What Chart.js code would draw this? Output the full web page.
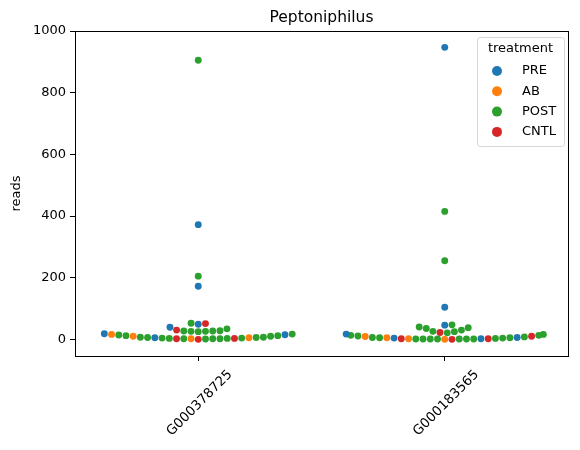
<!DOCTYPE html>
<html>
<head>
<meta charset="utf-8">
<script src="https://cdn.jsdelivr.net/npm/chart.js@4.4.1/dist/chart.umd.min.js"></script>
<style>
  body { margin: 0; background: #fff; }
  #wrap { width: 580px; height: 450px; }
</style>
</head>
<body>
<div id="wrap"><canvas id="chart"></canvas></div>
<script>
"use strict";

// categories on the x axis
const genes = ["G000378725", "G000183565"];
const treatments = ["PRE", "AB", "POST", "CNTL"];
const colors = ["#1f77b4", "#ff7f0e", "#2ca02c", "#d62728"];
const yTicks = [0, 200, 400, 600, 800, 1000];

// reads per sample, [gene 1, gene 2] for each treatment
const preReads = [
    [5, 15, 18, 39, 49, 372, 172],
    [2, 4, 6, 17, 46, 104, 947]
];
const abReads = [
    [2, 5, 10, 16],
    [0, 2, 5, 9]
];
const postReads = [
    [1, 2, 2, 2, 3, 3, 4, 4, 6, 6, 7, 7, 10, 12, 12, 14, 17, 25, 26, 26, 27, 27, 28, 34, 52, 905, 205],
    [1, 1, 1, 1, 1, 1, 1, 3, 4, 5, 5, 6, 8, 11, 13, 13, 16, 21, 25, 26, 30, 35, 38, 40, 47, 415, 255]
];
const cntlReads = [
    [0, 2, 3, 30, 51],
    [0, 2, 2, 10, 22]
];
const readsByTreatment = [preReads, abReads, postReads, cntlReads];

const FONT = "'DejaVu Sans', sans-serif";
const RADIUS = 3.45;
const SWARM_WIDTH = 0.8;

// every dataset starts with all points on the category centre, swarm spreads them later
const datasets = treatments.map((t, i) => ({
    label: t,
    data: readsByTreatment[i].flatMap((vals, g) => vals.map(v => ({ x: g, y: v, g: g }))),
    backgroundColor: colors[i],
    borderWidth: 0,
    pointRadius: RADIUS,
    pointHoverRadius: RADIUS
}));

// same idea as seaborn's beeswarm: sort by value, put each point as close to the middle as it fits
function swarmLayout(chart) {
    const xs = chart.scales.x, ys = chart.scales.y;
    const d = RADIUS * 2;
    genes.forEach((gene, g) => {
        const mid = xs.getPixelForValue(g);
        const half = xs.getPixelForValue(g + SWARM_WIDTH / 2) - mid;
        let pts = [];
        chart.data.datasets.forEach(ds => ds.data.forEach(p => {
            if (p.g === g) pts.push({ p: p, py: ys.getPixelForValue(p.y), px: mid });
        }));
        pts = pts.map((q, i) => ({ q, i })).sort((a, b) => (a.q.p.y - b.q.p.y) || (a.i - b.i)).map(o => o.q);
        const placed = [];
        pts.forEach(pt => {
            const near = placed.filter(o => Math.abs(o.py - pt.py) < d);
            let cands = [mid];
            near.forEach(o => {
                const dy = pt.py - o.py;
                const dx = Math.sqrt(Math.max(d * d - dy * dy, 0)) * 1.05;
                cands.push(o.px + dx, o.px - dx);
            });
            // near-equal distances count as a tie, so the sides take turns
            cands = cands.map((c, i) => ({ c, i, off: Math.abs(c - mid) })).sort((a, b) => {
                const diff = a.off - b.off;
                return Math.abs(diff) > 1 ? diff : a.i - b.i;
            });
            for (const cand of cands) {
                const ok = near.every(o => (cand.c - o.px) ** 2 + (pt.py - o.py) ** 2 >= d * d - 1e-6);
                if (ok) { pt.px = cand.c; break; }
            }
            placed.push(pt);
        });
        // points that do not fit go to the edge of the category, like seaborn's gutters
        placed.forEach(pt => {
            const px = Math.min(Math.max(pt.px, mid - half), mid + half);
            pt.p.x = xs.getValueForPixel(px);
        });
    });
}

// top and right spines, title and the legend box like matplotlib draws them
const decorations = {
    id: 'decorations',
    afterDraw(chart) {
        const ctx = chart.ctx, a = chart.chartArea;
        ctx.save();
        ctx.strokeStyle = '#000';
        ctx.lineWidth = 1;
        ctx.strokeRect(Math.round(a.left) + 0.5, Math.round(a.top) + 0.5, Math.round(a.right - a.left), Math.round(a.bottom - a.top));

        ctx.fillStyle = '#000';
        ctx.font = '15.5px ' + FONT;
        ctx.textAlign = 'center';
        ctx.textBaseline = 'bottom';
        ctx.fillText('Peptoniphilus', (a.left + a.right) / 2, a.top - 5);

        // legend
        const lx = a.right - 91, ly = a.top + 6, lw = 87, lh = 109;
        ctx.beginPath();
        ctx.roundRect(lx + 0.5, ly + 0.5, lw, lh, 3);
        ctx.fillStyle = 'rgba(255,255,255,0.8)';
        ctx.fill();
        ctx.strokeStyle = '#d6d6d6';
        ctx.stroke();
        ctx.fillStyle = '#000';
        ctx.font = '13px ' + FONT;
        ctx.textBaseline = 'middle';
        ctx.fillText('treatment', lx + lw / 2, ly + 12);
        ctx.textAlign = 'left';
        treatments.forEach((t, i) => {
            const yy = ly + 34 + i * 20.3;
            ctx.beginPath();
            ctx.arc(lx + 20, yy, 5, 0, Math.PI * 2);
            ctx.fillStyle = colors[i];
            ctx.fill();
            ctx.fillStyle = '#000';
            ctx.fillText(t, lx + 45, yy);
        });
        ctx.restore();
    }
};

const chart = new Chart(document.getElementById('chart'), {
    type: 'scatter',
    data: { datasets: datasets },
    options: {
        responsive: true,
        maintainAspectRatio: false,
        animation: false,
        layout: { padding: { top: 31, right: 12, left: 0, bottom: 0 } },
        plugins: {
            legend: { display: false },
            tooltip: { enabled: false }
        },
        scales: {
            x: {
                type: 'linear',
                min: -0.5,
                max: 1.5,
                afterFit: s => { s.height = 94; },
                afterBuildTicks: s => { s.ticks = genes.map((g, i) => ({ value: i })); },
                ticks: {
                    callback: v => genes[v],
                    minRotation: 45,
                    maxRotation: 45,
                    labelOffset: 32,
                    padding: 6,
                    color: '#000',
                    font: { family: FONT, size: 13.3 }
                },
                grid: { display: true, drawOnChartArea: false, color: '#000', tickLength: 5, tickWidth: 1 },
                border: { color: '#000', width: 1 }
            },
            y: {
                min: -54,
                max: 1000,
                afterFit: s => { s.width = 75; },
                afterBuildTicks: s => { s.ticks = yTicks.map(v => ({ value: v })); },
                ticks: {
                    callback: v => String(v),
                    padding: 4,
                    color: '#000',
                    font: { family: FONT, size: 13 }
                },
                title: {
                    display: true,
                    text: 'reads',
                    color: '#000',
                    font: { family: FONT, size: 13 },
                    padding: { top: 9, bottom: 0 }
                },
                grid: { display: true, drawOnChartArea: false, color: '#000', tickLength: 5, tickWidth: 1 },
                border: { color: '#000', width: 1 }
            }
        }
    },
    plugins: [decorations]
});

swarmLayout(chart);
chart.update('none');
</script>
</body>
</html>
